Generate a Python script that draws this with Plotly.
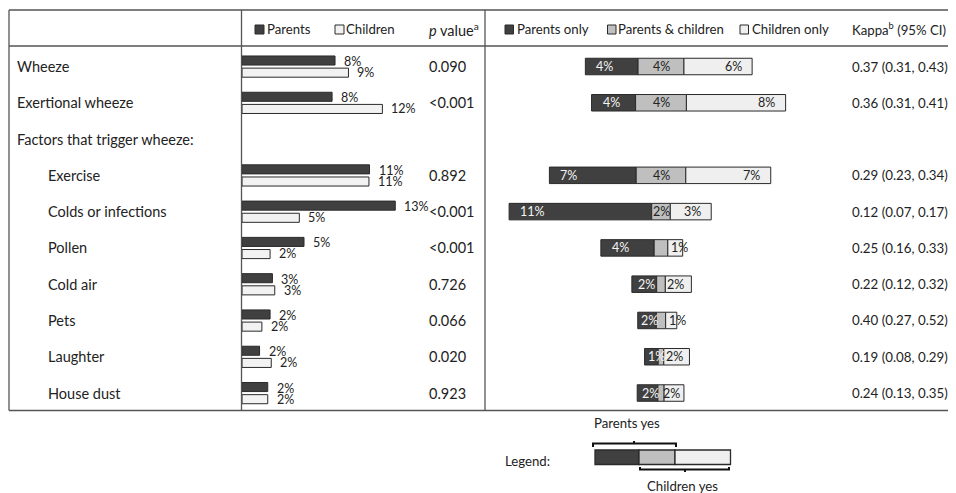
import plotly.graph_objects as go

# ---------------- data ----------------
rows = ["Wheeze", "Exertional wheeze", "Factors that trigger wheeze:", "Exercise",
        "Colds or infections", "Pollen", "Cold air", "Pets", "Laughter", "House dust"]
indented = [False, False, False, True, True, True, True, True, True, True]

parents_pct = [7.95, 7.7, None, 10.9, 13.1, 5.3, 2.6, 2.4, 1.5, 2.2]
children_pct = [9.1, 12.0, None, 10.85, 4.9, 2.4, 2.8, 1.7, 2.5, 2.2]
parents_lbl = ["8%", "8%", "", "11%", "13%", "5%", "3%", "2%", "2%", "2%"]
children_lbl = ["9%", "12%", "", "11%", "5%", "2%", "3%", "2%", "2%", "2%"]

p_values = ["0.090", "<0.001", "", "0.892", "<0.001", "<0.001", "0.726", "0.066", "0.020", "0.923"]

parents_only = [4.25, 3.55, None, 7.0, 11.5, 4.3, 2.0, 1.5, 1.1, 1.67]
both = [3.7, 4.1, None, 4.0, 1.5, 1.1, 0.7, 0.75, 0.45, 0.5]
children_only = [5.5, 8.0, None, 6.85, 3.3, 1.2, 2.1, 0.9, 2.07, 1.6]
po_lbl = ["4%", "4%", "", "7%", "11%", "4%", "2%", "2%", "1%", "2%"]
both_lbl = ["4%", "4%", "", "4%", "2%", "", "", "", "", ""]
co_lbl = ["6%", "8%", "", "7%", "3%", "1%", "2%", "1%", "2%", "2%"]

kappa = ["0.37 (0.31, 0.43)", "0.36 (0.31, 0.41)", "", "0.29 (0.23, 0.34)",
         "0.12 (0.07, 0.17)", "0.25 (0.16, 0.33)", "0.22 (0.12, 0.32)",
         "0.40 (0.27, 0.52)", "0.19 (0.08, 0.29)", "0.24 (0.13, 0.35)"]

# ---------------- style ----------------
OFF = 8                      # page body margin of the browser
W, H = 956 - OFF, 493 - OFF
FONT = "Lato"
TXT = "#222222"
DARK, MID, LIGHT = "#404040", "#bfbfbf", "#efefef"
EDGE = "#2a2a2a"
GRID = "#555555"
FS = 14.5
FS_HEAD = 13.2
FS_KAPPA = 13.3
FS_SMALL = 12.5
TP = 2   # annotation inner padding (border + pad)


def px(x):
    return (x - OFF) / W


def py(y):
    return 1 - (y - OFF) / H


fig = go.Figure()

# left grouped bars (xaxis x)
x1_dom = (242, 485)
x1_scale = 11.7
x1_range = [0, (x1_dom[1] - x1_dom[0]) / x1_scale]

fig.add_trace(go.Bar(x=parents_pct, y=rows, orientation="h", xaxis="x", yaxis="y",
                     width=0.25, offset=-0.29,
                     marker=dict(color=DARK, line=dict(color=EDGE, width=1)),
                     showlegend=False, hoverinfo="skip"))
fig.add_trace(go.Bar(x=children_pct, y=rows, orientation="h", xaxis="x", yaxis="y",
                     width=0.25, offset=0.045,
                     marker=dict(color="#f2f2f2", line=dict(color=EDGE, width=1)),
                     showlegend=False, hoverinfo="skip"))

# diverging stacked bars (xaxis x2, centred on the shared segment)
x2_dom = (486, 836)
x2_scale = 12.4
x2_center = 661
x2_range = [(x2_dom[0] - x2_center) / x2_scale, (x2_dom[1] - x2_center) / x2_scale]

po_base = [None if b is None else -b / 2 - p for b, p in zip(both, parents_only)]
b_base = [None if b is None else -b / 2 for b in both]
co_base = [None if b is None else b / 2 for b in both]

for vals, base, col in [(parents_only, po_base, DARK), (both, b_base, MID), (children_only, co_base, LIGHT)]:
    fig.add_trace(go.Bar(x=vals, base=base, y=rows, orientation="h", xaxis="x2", yaxis="y",
                         width=0.455,
                         marker=dict(color=col, line=dict(color=EDGE, width=1)),
                         showlegend=False, hoverinfo="skip"))

ann = []

# row labels, p values, kappa
for i, r in enumerate(rows):
    ann.append(dict(x=px((48 if indented[i] else 17) - TP), xref="paper", y=r, yref="y",
                    text=r, xanchor="left", showarrow=False,
                    font=dict(size=FS, color=TXT)))
    if p_values[i]:
        ann.append(dict(x=px(429 - TP), xref="paper", y=r, yref="y", text=p_values[i],
                        xanchor="left", showarrow=False, font=dict(size=FS, color=TXT)))
    if kappa[i]:
        ann.append(dict(x=px(851.5 - TP), xref="paper", y=r, yref="y", text=kappa[i],
                        xanchor="left", showarrow=False, font=dict(size=FS_KAPPA, color=TXT)))

# left bar value labels
for i, r in enumerate(rows):
    if parents_pct[i] is not None:
        ann.append(dict(x=parents_pct[i], xref="x", y=r, yref="y", text=parents_lbl[i],
                        xanchor="left", xshift=8, yshift=5, showarrow=False,
                        borderpad=0, font=dict(size=FS_SMALL, color=TXT)))
        ann.append(dict(x=children_pct[i], xref="x", y=r, yref="y", text=children_lbl[i],
                        xanchor="left", xshift=8, yshift=-6, showarrow=False,
                        borderpad=0, font=dict(size=FS_SMALL, color=TXT)))


def tw(s):
    return 7.0 * len(s)


# stacked bar labels
for i, r in enumerate(rows):
    if both[i] is None:
        continue
    seg = parents_only[i] * x2_scale
    pad = min(10, max(2, (seg - tw(po_lbl[i])) / 2))
    ann.append(dict(x=po_base[i], xref="x2", y=r, yref="y", text=po_lbl[i],
                    xanchor="left", xshift=pad, showarrow=False, borderpad=0,
                    font=dict(size=FS_SMALL, color="#f4f4f4")))
    if both_lbl[i]:
        ann.append(dict(x=0, xref="x2", y=r, yref="y", text=both_lbl[i],
                        xanchor="center", showarrow=False, borderpad=0,
                        font=dict(size=FS_SMALL, color=TXT)))
    seg = children_only[i] * x2_scale
    pad = (seg - tw(co_lbl[i])) / 2
    right = co_base[i] + children_only[i]
    if pad >= 2:
        ann.append(dict(x=right, xref="x2", y=r, yref="y", text=co_lbl[i],
                        xanchor="right", xshift=-min(pad, 9.5), showarrow=False, borderpad=0,
                        font=dict(size=FS_SMALL, color=TXT)))
    else:
        ann.append(dict(x=co_base[i], xref="x2", y=r, yref="y", text=co_lbl[i],
                        xanchor="left", xshift=2, showarrow=False, borderpad=0,
                        font=dict(size=FS_SMALL, color=TXT)))

# header texts
hy = py(29.5)
for x, t, fs in [(267, "Parents", FS_HEAD), (346, "Children", FS_HEAD),
                 (428.5, "<i>p</i> value<sup>a</sup>", FS),
                 (517, "Parents only", FS_HEAD), (617.5, "Parents &amp; children", FS_HEAD),
                 (752, "Children only", FS_HEAD), (851.5, "Kappa<sup>b</sup> (95% CI)", FS_HEAD)]:
    ann.append(dict(x=px(x - TP), xref="paper", y=hy, yref="paper", text=t, xanchor="left",
                    yanchor="middle", showarrow=False, font=dict(size=fs, color=TXT)))

# bottom legend texts
ann.append(dict(x=px(505 - TP), xref="paper", y=py(460.5), yref="paper", text="Legend:",
                xanchor="left", yanchor="middle", showarrow=False, font=dict(size=FS_HEAD, color=TXT)))
ann.append(dict(x=px(627), xref="paper", y=py(422.5), yref="paper", text="Parents yes",
                xanchor="center", yanchor="middle", showarrow=False, font=dict(size=FS_HEAD, color=TXT)))
ann.append(dict(x=px(682), xref="paper", y=py(486), yref="paper", text="Children yes",
                xanchor="center", yanchor="middle", showarrow=False, font=dict(size=FS_HEAD, color=TXT)))

shapes = []


def line(x0, y0, x1, y1, color=GRID, width=1.3):
    shapes.append(dict(type="line", xref="paper", yref="paper", x0=px(x0), y0=py(y0),
                       x1=px(x1), y1=py(y1), line=dict(color=color, width=width)))


def rect(x0, y0, x1, y1, fill, color=EDGE, width=1):
    shapes.append(dict(type="rect", xref="paper", yref="paper", x0=px(x0), y0=py(y0),
                       x1=px(x1), y1=py(y1), fillcolor=fill, line=dict(color=color, width=width)))


# table frame
line(9, 10, 956, 10)
line(9, 46, 956, 46)
line(9, 410.5, 956, 410.5)
line(9, 10, 9, 410.5)
line(241.5, 10, 241.5, 410.5)
line(485, 10, 485, 410.5)

# header legend squares
rect(255, 25, 264, 34, DARK)
rect(335, 25, 344, 34, "#f2f2f2")
rect(505, 25, 513.5, 34, DARK)
rect(607.5, 25, 616, 34, MID)
rect(740, 25, 748.5, 34, LIGHT)

# bottom legend bar
rect(595, 450, 639, 464.5, DARK, width=1.3)
rect(639, 450, 675, 464.5, MID, width=1.3)
rect(675, 450, 730.5, 464.5, LIGHT, width=1.3)


def path(pts):
    d = "M " + " L ".join(f"{px(x):.5f},{py(y):.5f}" for x, y in pts)
    shapes.append(dict(type="path", xref="paper", yref="paper", path=d,
                       line=dict(color="#111111", width=2)))


path([(593, 447), (593, 443.5), (676, 443.5), (676, 447)])
path([(634, 443.5), (634, 441)])
path([(640, 467), (640, 469.5), (729, 469.5), (729, 467)])
path([(685, 469.5), (685, 472)])

y_top_px, y_step = 66.5 - OFF, 36.28
y_range = [(H - y_top_px) / y_step, -y_top_px / y_step]

fig.update_layout(
    width=W, height=H,
    margin=dict(l=0, r=0, t=0, b=0),
    paper_bgcolor="white", plot_bgcolor="rgba(0,0,0,0)",
    barmode="overlay",
    font=dict(family=FONT, size=FS, color=TXT),
    xaxis=dict(domain=[px(x1_dom[0]), px(x1_dom[1])], range=x1_range, visible=False, fixedrange=True),
    xaxis2=dict(domain=[px(x2_dom[0]), px(x2_dom[1])], range=x2_range, visible=False, fixedrange=True),
    yaxis=dict(type="category", categoryorder="array", categoryarray=rows, range=y_range,
               visible=False, fixedrange=True),
    annotations=ann,
    shapes=shapes,
)

fig.write_html("out.html")
